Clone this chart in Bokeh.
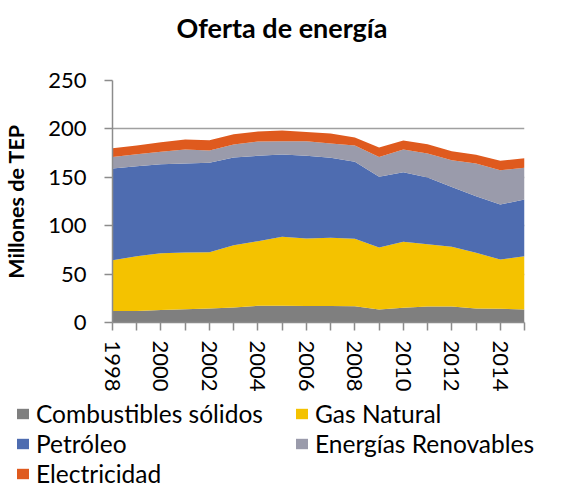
from bokeh.plotting import figure
from bokeh.layouts import column
from bokeh.models import ColumnDataSource, FixedTicker, Legend, LegendItem
from bokeh.embed import file_html
from bokeh.resources import INLINE

years = list(range(1998, 2016))
combustibles = [12.0, 12.0, 13.0, 13.8, 14.5, 15.5, 17.2, 17.2, 17.0, 17.0, 16.9, 13.4, 15.2, 16.5, 16.5, 14.5, 14.1, 13.4]
gas_natural = [52.4, 56.5, 58.6, 58.5, 58.2, 64.4, 66.8, 71.3, 69.8, 70.5, 69.5, 64.1, 68.1, 64.4, 61.7, 57.5, 51.0, 55.1]
petroleo = [94.6, 93.0, 92.0, 92.0, 92.3, 90.6, 88.2, 85.1, 85.4, 82.6, 79.6, 73.0, 72.0, 68.9, 61.9, 58.5, 56.8, 58.6]
renovables = [12.1, 12.4, 12.7, 14.4, 12.7, 13.4, 14.8, 13.7, 15.1, 14.8, 16.9, 20.6, 23.4, 24.8, 27.6, 33.8, 35.5, 32.7]
electricidad = [9.0, 9.0, 10.0, 10.3, 10.7, 10.7, 10.2, 11.0, 9.6, 10.3, 8.2, 9.7, 9.3, 9.6, 9.3, 8.9, 9.6, 10.0]

series_names = ["Combustibles sólidos", "Gas Natural", "Petróleo", "Energías Renovables", "Electricidad"]
series_keys = ["comb", "gas", "pet", "ren", "elec"]
colors = ["#7f7f7f", "#f4c200", "#4e6cb0", "#9a9bab", "#df5a1e"]

label_years = [1998, 2000, 2002, 2004, 2006, 2008, 2010, 2012, 2014]
minor_years = [1999, 2001, 2003, 2005, 2007, 2009, 2011, 2013, 2015]
y_ticks = [0, 50, 100, 150, 200, 250]

source = ColumnDataSource(dict(year=years, comb=combustibles, gas=gas_natural,
                               pet=petroleo, ren=renovables, elec=electricidad))

FONT = "Lato"
AXIS_COLOR = "#8c8c8c"
W = 563

# ---- title strip ----
pt = figure(width=W, height=55, output_backend="svg", toolbar_location=None,
            x_axis_location=None, y_axis_location=None, min_border=0,
            title="Oferta de energía", frame_align=False)
pt.outline_line_color = None
pt.grid.visible = False
pt.title.align = "center"
pt.title.offset = 0
pt.title.text_font = FONT
pt.title.text_font_size = "27px"
pt.title.text_font_style = "bold"
pt.title.text_color = "#000000"
pt.title.standoff = 16

# ---- main chart ----
p = figure(width=W, height=339, x_range=(1998, 2015), y_range=(0, 250),
           output_backend="svg", toolbar_location=None, frame_align=False,
           min_border_left=110, min_border_right=39, min_border_top=25, min_border_bottom=72)

renderers = p.varea_stack(stackers=series_keys, x="year", color=colors, source=source)

p.outline_line_color = None
p.xgrid.grid_line_color = None
p.ygrid.grid_line_color = "#a0a0a0"
p.ygrid.grid_line_width = 1.5
p.ygrid.ticker = FixedTicker(ticks=y_ticks)

p.xaxis.ticker = FixedTicker(ticks=label_years, minor_ticks=minor_years)
p.xaxis.major_label_overrides = {y: str(y) for y in label_years}
p.xaxis.major_label_orientation = "vertical"
p.yaxis.ticker = FixedTicker(ticks=y_ticks)
p.yaxis.axis_label = "Millones de TEP"

for ax in (p.xaxis[0], p.yaxis[0]):
    ax.axis_line_color = AXIS_COLOR
    ax.axis_line_width = 1.5
    ax.major_tick_line_color = AXIS_COLOR
    ax.major_tick_line_width = 1.5
    ax.minor_tick_line_color = AXIS_COLOR
    ax.minor_tick_line_width = 1.5
    ax.major_tick_in = 0
    ax.major_tick_out = 8
    ax.minor_tick_in = 0
    ax.minor_tick_out = 8
    ax.major_label_text_font = FONT
    ax.major_label_text_font_size = "22px"
    ax.major_label_text_color = "#000000"

p.xaxis.major_label_standoff = 10
p.yaxis.major_label_standoff = 18
p.yaxis.minor_tick_line_color = None
p.yaxis.axis_label_text_font = FONT
p.yaxis.axis_label_text_font_size = "21.5px"
p.yaxis.axis_label_text_font_style = "bold"
p.yaxis.axis_label_text_color = "#000000"
p.yaxis.axis_label_standoff = 16

# ---- legend strip ----
pl = figure(width=W, height=94, x_range=(0, 1), y_range=(0, 1),
            output_backend="svg", toolbar_location=None, frame_align=False,
            x_axis_location=None, y_axis_location=None, min_border=0)
pl.outline_line_color = None
pl.grid.visible = False
leg_renderers = pl.varea_stack(stackers=series_keys, x="year", color=colors, source=source)
items = [LegendItem(label=n, renderers=[r]) for n, r in zip(series_names, leg_renderers)]
leg = Legend(items=items, location=(15, 0), orientation="horizontal", ncols=2,
             label_text_font=FONT, label_text_font_size="24.5px", label_text_color="#000000",
             glyph_width=15, glyph_height=13, label_standoff=6, label_width=257,
             label_height=26, spacing=1, padding=0, margin=0,
             border_line_color=None, background_fill_alpha=0)
pl.add_layout(leg)

layout = column(pt, p, pl, spacing=0)
open("out.html", "w").write(file_html(layout, INLINE))
